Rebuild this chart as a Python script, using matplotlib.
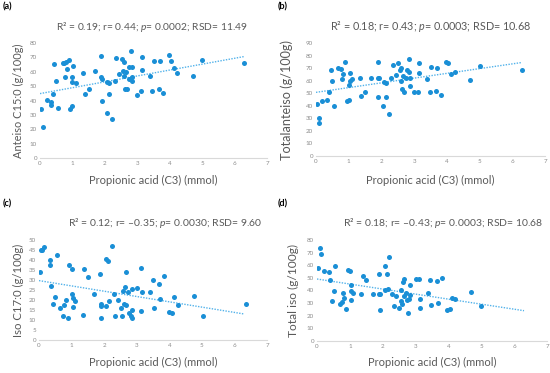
"""Four-panel scatter: fatty-acid content vs propionic acid, with linear trendlines."""

import matplotlib

matplotlib.use("Agg")
import matplotlib.pyplot as plt
import numpy as np

plt.rcParams["font.family"] = ["Lato", "DejaVu Sans"]
plt.rcParams["mathtext.fontset"] = "custom"
plt.rcParams["mathtext.rm"] = "Lato"
plt.rcParams["mathtext.it"] = "Lato:italic"

# ---- data ---------------------------------------------------------------
a_x = [0.03, 0.08, 0.21, 0.34, 0.34, 0.39, 0.44, 0.49, 0.55, 0.70, 0.75, 0.79,
       0.77, 0.82, 0.89, 0.93, 1.00, 1.00, 1.02, 1.00, 1.11, 1.34, 1.40, 1.50,
       1.70, 1.89, 1.89, 1.92, 1.90, 2.06, 2.06, 2.12, 2.14, 2.21, 2.30, 2.34,
       2.44, 2.52, 2.57, 2.59, 2.59, 2.64, 2.63, 2.69, 2.73, 2.74, 2.81, 2.83,
       2.85, 2.85, 2.99, 3.10, 3.13, 3.15, 3.40, 3.46, 3.50, 3.66, 3.69, 3.80,
       3.97, 4.05, 4.14, 4.23, 4.71, 5.00, 6.28]
a_y = [34.3, 21.7, 40.3, 39.2, 36.8, 44.5, 65.5, 53.8, 35.0, 66.4, 66.4, 67.0,
       56.6, 61.8, 68.3, 34.3, 36.1, 56.6, 64.1, 52.9, 52.0, 59.4, 44.8, 48.0,
       60.8, 71.1, 56.6, 55.0, 39.6, 31.0, 53.1, 44.3, 52.4, 27.0, 53.6, 69.7,
       58.5, 68.8, 60.8, 66.9, 57.1, 59.9, 48.3, 47.8, 55.2, 63.2, 74.4, 63.2,
       56.2, 53.8, 44.1, 46.9, 70.6, 61.3, 57.1, 46.6, 67.8, 47.8, 67.4, 45.5,
       71.6, 67.4, 62.5, 59.0, 57.1, 68.1, 66.2]

b_x = [0.02, 0.09, 0.09, 0.19, 0.35, 0.40, 0.45, 0.50, 0.55, 0.67, 0.76, 0.78,
       0.83, 0.89, 0.96, 1.02, 1.02, 1.03, 1.03, 1.11, 1.35, 1.39, 1.51, 1.69,
       1.90, 1.90, 1.90, 1.94, 2.06, 2.07, 2.14, 2.15, 2.22, 2.29, 2.35, 2.44,
       2.51, 2.57, 2.59, 2.61, 2.63, 2.66, 2.68, 2.74, 2.77, 2.83, 2.84, 2.86,
       2.87, 3.01, 3.12, 3.14, 3.15, 3.40, 3.47, 3.51, 3.67, 3.70, 3.83, 3.98,
       4.05, 4.14, 4.24, 4.72, 5.01, 6.29]
b_y = [41.4, 30.2, 25.9, 44.1, 44.6, 51.3, 68.1, 59.8, 40.1, 69.9, 69.2, 61.4,
       65.7, 74.8, 43.5, 44.6, 56.4, 59.8, 66.5, 61.2, 62.2, 48.1, 51.0, 62.5,
       75.1, 46.7, 62.5, 62.5, 40.1, 59.0, 46.7, 58.5, 33.1, 62.2, 72.1, 64.9,
       74.0, 68.1, 59.6, 69.7, 53.1, 64.1, 51.3, 62.0, 68.1, 77.3, 67.0, 55.8,
       62.2, 50.7, 50.7, 74.0, 66.0, 61.7, 51.0, 70.8, 52.1, 69.7, 48.9, 74.8,
       74.0, 65.7, 67.0, 60.9, 71.6, 68.6]

c_x = [0.02, 0.07, 0.09, 0.16, 0.33, 0.33, 0.38, 0.43, 0.49, 0.55, 0.66, 0.74,
       0.77, 0.82, 0.89, 0.93, 1.01, 1.01, 1.03, 1.04, 1.12, 1.34, 1.38, 1.49,
       1.68, 1.88, 1.89, 1.91, 1.91, 2.07, 2.07, 2.13, 2.14, 2.23, 2.29, 2.34,
       2.43, 2.51, 2.56, 2.58, 2.62, 2.66, 2.65, 2.68, 2.72, 2.75, 2.82, 2.84,
       2.87, 2.87, 3.02, 3.13, 3.13, 3.17, 3.42, 3.49, 3.52, 3.69, 3.71, 3.83,
       3.98, 4.09, 4.16, 4.27, 4.75, 5.04, 6.34]
c_y = [34.0, 45.2, 45.0, 46.7, 40.2, 37.5, 27.2, 18.0, 21.3, 42.5, 16.2, 11.8,
       17.5, 20.2, 10.8, 37.3, 22.8, 35.5, 20.8, 16.3, 19.7, 12.7, 35.7, 31.3,
       23.2, 33.2, 17.2, 18.2, 11.2, 17.2, 40.3, 39.5, 19.5, 46.8, 22.8, 12.2,
       19.8, 15.8, 12.0, 24.5, 18.2, 17.7, 26.3, 34.2, 23.8, 13.3, 12.2, 10.8,
       15.0, 25.5, 26.2, 35.8, 14.7, 23.8, 23.8, 29.8, 15.8, 27.8, 20.5, 32.0,
       14.2, 13.5, 21.5, 17.5, 22.0, 12.2, 18.0]

d_x = [0.03, 0.10, 0.11, 0.20, 0.35, 0.40, 0.46, 0.51, 0.56, 0.69, 0.76, 0.79,
       0.83, 0.89, 0.94, 1.01, 1.02, 1.02, 1.04, 1.11, 1.35, 1.39, 1.49, 1.69,
       1.89, 1.89, 1.91, 1.93, 2.06, 2.08, 2.13, 2.15, 2.20, 2.28, 2.34, 2.41,
       2.50, 2.55, 2.57, 2.60, 2.63, 2.65, 2.65, 2.71, 2.74, 2.77, 2.81, 2.83,
       2.83, 3.00, 3.10, 3.13, 3.12, 3.38, 3.45, 3.48, 3.65, 3.67, 3.80, 3.96,
       4.05, 4.11, 4.21, 4.70, 4.99]
d_y = [58.0, 73.6, 69.1, 55.7, 54.4, 48.0, 31.9, 39.6, 59.1, 29.6, 30.6, 38.3,
       33.8, 25.1, 56.2, 55.4, 44.3, 39.6, 32.7, 38.3, 37.5, 51.5, 48.5, 36.9,
       53.3, 37.5, 24.8, 37.5, 59.6, 40.6, 52.8, 41.2, 66.2, 37.5, 28.0, 35.4,
       25.9, 40.1, 31.7, 29.6, 47.0, 48.8, 35.9, 38.0, 32.2, 22.4, 33.2, 36.7,
       44.1, 49.1, 48.8, 33.5, 26.1, 38.0, 48.3, 28.8, 47.5, 30.1, 50.1, 24.5,
       25.6, 33.8, 33.0, 38.5, 28.0]

# linear trendline, value at x=0 and at x=trend_x_end
trend_x_end = 6.3
trend_y0 = [44.8, 50.7, 29.7, 49.1]
trend_y1 = [70.6, 74.5, 13.0, 24.0]

titles = [
    "R² = 0.19; r= 0.44; $p$= 0.0002; RSD= 11.49",
    "R² = 0.18; r= 0.43; $p$= 0.0003; RSD= 10.68",
    "R² = 0.12; r= –0.35; $p$= 0.0030; RSD= 9.60",
    "R² = 0.18; r= –0.43; $p$= 0.0003; RSD= 10.68",
]
xlabel = "Propionic acid (C3) (mmol)"
ylabels = ["Anteiso C15:0 (g/100g)", "Totalanteiso (g/100g)",
           "Iso C17:0 (g/100g)", "Total iso (g/100g)"]
panel_tags = ["(a)", "(b)", "(c)", "(d)"]
ymax = [80, 90, 50, 80]
ystep = [10, 10, 5, 10]

DOT = "#1a8fd6"
LINE = "#52b2ea"
TXT = "#595959"
TICK = "#8c8c8c"

# layout in pixels of the 550 x 373 canvas
boxes = [(40, 43, 267, 158), (316, 43, 545, 156),
         (39, 240, 267, 340), (317, 240, 547, 341)]   # left, top, right, bottom
title_xy = [(151.5, 27), (430.5, 27), (165.5, 223), (443.5, 223)]
title_w = [193, 201, 195, 201]
xlab_y = [180, 180, 362, 362]
xlab_w = 128
ylab_x = [18, 287, 18, 293]
ylab_h = [114, 120, 94, 94]
tag_pos = [(3, 7), (278, 7), (3, 204), (278, 204)]

W, H = 550, 373
fig = plt.figure(figsize=(W / 100, H / 100), dpi=100)
renderer = fig.canvas.get_renderer()


def fit_width(txt, target, vertical=False):
    """Scale a text's font size so its rendered extent matches target pixels."""
    bb = txt.get_window_extent(renderer)
    cur = bb.height if vertical else bb.width
    txt.set_fontsize(txt.get_fontsize() * target / cur)


data = [(a_x, a_y), (b_x, b_y), (c_x, c_y), (d_x, d_y)]
for i, (xs, ys) in enumerate(data):
    l, t, r, b = boxes[i]
    ax = fig.add_axes([l / W, 1 - b / H, (r - l) / W, (b - t) / H])
    ax.scatter(xs, ys, s=13, color=DOT, linewidths=0, zorder=3)
    ax.plot([0, trend_x_end], [trend_y0[i], trend_y1[i]],
            ls=(0, (1, 1)), lw=1.0, color=LINE, zorder=2)

    ax.set_xlim(0, 7)
    ax.set_ylim(0, ymax[i])
    ax.set_xticks(range(8))
    ax.set_yticks(np.arange(0, ymax[i] + 0.1, ystep[i]))
    ax.tick_params(length=0, labelsize=4.5, colors=TICK, pad=2)
    for s in ("top", "right", "left"):
        ax.spines[s].set_visible(False)
    ax.spines["bottom"].set_color("#d9d9d9")
    ax.spines["bottom"].set_linewidth(0.8)

    tx, ty = title_xy[i]
    t_title = fig.text(tx / W, 1 - ty / H, titles[i], fontsize=8,
                       color=TXT, ha="center", va="center")
    fit_width(t_title, title_w[i])

    t_x = fig.text((l + r) / 2 / W, 1 - xlab_y[i] / H, xlabel,
                   fontsize=8, color=TXT, ha="center", va="center")
    fit_width(t_x, xlab_w)

    t_y = fig.text(ylab_x[i] / W, 1 - (t + b) / 2 / H, ylabels[i],
                   fontsize=8, color=TXT, ha="center", va="center",
                   rotation=90)
    fit_width(t_y, ylab_h[i], vertical=True)

    fig.text(tag_pos[i][0] / W, 1 - tag_pos[i][1] / H, panel_tags[i],
             fontsize=6.5, fontweight="bold", va="center", ha="left")

fig.savefig("out.png", dpi=100)
